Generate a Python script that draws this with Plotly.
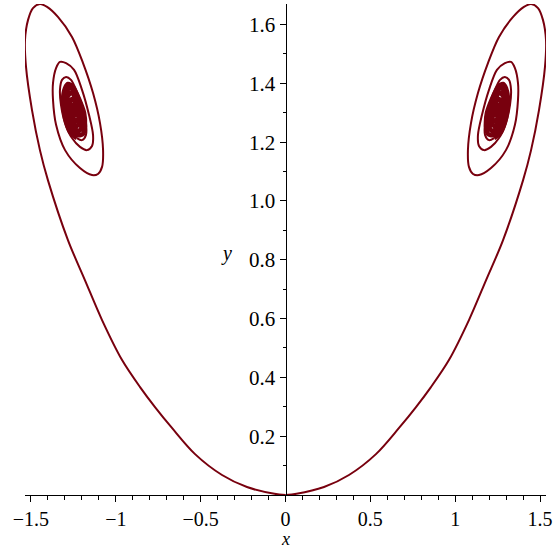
import plotly.graph_objects as go

curve_color = '#78000e'

# left branch: from the origin up the left arm, then spiralling into the left focus
left_x = [0.0, -0.065, -0.227, -0.374, -0.533, -0.669, -0.769, -0.857, -0.963, -1.081,
          -1.182, -1.282, -1.400, -1.447, -1.494, -1.529, -1.535, -1.517, -1.488, -1.447,
          -1.405, -1.341, -1.258, -1.193, -1.134, -1.093, -1.075, -1.081, -1.105, -1.140,
          -1.211, -1.299, -1.352, -1.370, -1.370, -1.352, -1.329, -1.293, -1.246, -1.199,
          -1.158, -1.134, -1.140, -1.170, -1.211, -1.258, -1.299, -1.323, -1.329, -1.317,
          -1.293, -1.264, -1.229, -1.193, -1.176, -1.176, -1.199, -1.229,
          -1.270, -1.299, -1.311, -1.299, -1.282, -1.252, -1.217, -1.187, -1.182, -1.193, -1.223,
          -1.264, -1.293, -1.299, -1.288, -1.270, -1.246, -1.217, -1.199, -1.199, -1.217, -1.240,
          -1.270, -1.288, -1.282, -1.264, -1.240, -1.217, -1.211, -1.229, -1.252,
          -1.270, -1.270, -1.258, -1.240, -1.223, -1.223, -1.240,
          -1.258, -1.258, -1.246, -1.234, -1.234, -1.246, -1.246]
left_y = [0.0, 0.004, 0.027, 0.068, 0.139, 0.228, 0.299, 0.367, 0.459, 0.595,
          0.731, 0.867, 1.071, 1.173, 1.310, 1.456, 1.548, 1.616, 1.656, 1.670,
          1.660, 1.626, 1.558, 1.469, 1.367, 1.265, 1.173, 1.116, 1.092, 1.088,
          1.112, 1.173, 1.259, 1.344, 1.401, 1.452, 1.473, 1.469, 1.446, 1.378,
          1.293, 1.224, 1.187, 1.173, 1.184, 1.214, 1.265, 1.327, 1.378, 1.412,
          1.422, 1.412, 1.371, 1.316, 1.269, 1.224, 1.207, 1.214,
          1.235, 1.282, 1.344, 1.384, 1.398, 1.388, 1.347, 1.299, 1.255, 1.228, 1.224,
          1.252, 1.299, 1.344, 1.374, 1.384, 1.371, 1.333, 1.293, 1.255, 1.238, 1.245,
          1.276, 1.323, 1.357, 1.367, 1.354, 1.316, 1.276, 1.255, 1.262,
          1.296, 1.333, 1.347, 1.337, 1.303, 1.276, 1.272,
          1.303, 1.323, 1.327, 1.310, 1.293, 1.293, 1.310]

# right branch (mirror image of the left one)
right_x = [0.0, 0.065, 0.227, 0.374, 0.533, 0.669, 0.769, 0.857, 0.963, 1.081,
           1.182, 1.282, 1.400, 1.447, 1.494, 1.529, 1.535, 1.517, 1.488, 1.447,
           1.405, 1.341, 1.258, 1.193, 1.134, 1.093, 1.075, 1.081, 1.105, 1.140,
           1.211, 1.299, 1.352, 1.370, 1.370, 1.352, 1.329, 1.293, 1.246, 1.199,
           1.158, 1.134, 1.140, 1.170, 1.211, 1.258, 1.299, 1.323, 1.329, 1.317,
           1.293, 1.264, 1.229, 1.193, 1.176, 1.176, 1.199, 1.229,
           1.270, 1.299, 1.311, 1.299, 1.282, 1.252, 1.217, 1.187, 1.182, 1.193, 1.223,
           1.264, 1.293, 1.299, 1.288, 1.270, 1.246, 1.217, 1.199, 1.199, 1.217, 1.240,
           1.270, 1.288, 1.282, 1.264, 1.240, 1.217, 1.211, 1.229, 1.252,
           1.270, 1.270, 1.258, 1.240, 1.223, 1.223, 1.240,
           1.258, 1.258, 1.246, 1.234, 1.234, 1.246, 1.246]
right_y = list(left_y)

# index where the tightly wound core of each spiral starts
core_start = 57

x_ticks = [-1.5, -1, -0.5, 0, 0.5, 1, 1.5]
x_tick_labels = ['−1.5', '−1', '−0.5', '0', '0.5', '1', '1.5']
y_ticks = [0.2, 0.4, 0.6, 0.8, 1.0, 1.2, 1.4, 1.6]
y_tick_labels = ['0.2', '0.4', '0.6', '0.8', '1.0', '1.2', '1.4', '1.6']

x_range = [-1.535, 1.535]
y_range = [0, 1.670]

serif = 'Liberation Serif'

fig = go.Figure()

for xs, ys in [(left_x, left_y), (right_x, right_y)]:
    # outer arm and first loops
    fig.add_trace(go.Scatter(x=xs[:core_start + 1], y=ys[:core_start + 1], mode='lines',
                             hoverinfo='none', showlegend=False,
                             line=dict(color=curve_color, width=2, shape='spline', smoothing=0.9)))
    # dense core of the spiral
    fig.add_trace(go.Scatter(x=xs[core_start:], y=ys[core_start:], mode='lines',
                             hoverinfo='none', showlegend=False,
                             line=dict(color=curve_color, width=4.5, shape='spline', smoothing=0.8)))

fig.update_xaxes(
    range=x_range,
    automargin=False,
    showgrid=False,
    zeroline=False,
    showline=True,
    linecolor='black',
    linewidth=1,
    ticks='outside',
    ticklen=6,
    tickcolor='black',
    tickvals=x_ticks,
    ticktext=x_tick_labels,
    minor=dict(dtick=0.1, tick0=0, ticks='outside', ticklen=4, tickcolor='black'),
    tickfont=dict(family=serif, size=20, color='black'),
)

fig.update_yaxes(
    range=y_range,
    automargin=False,
    showgrid=False,
    zeroline=False,
    showline=True,
    linecolor='black',
    linewidth=1,
    anchor='free',
    position=(0 - x_range[0]) / (x_range[1] - x_range[0]),
    ticks='outside',
    ticklen=6,
    tickcolor='black',
    tickvals=y_ticks,
    ticktext=y_tick_labels,
    minor=dict(dtick=0.1, tick0=0, ticks='outside', ticklen=3, tickcolor='black'),
    tickfont=dict(family=serif, size=21, color='black'),
)

fig.add_annotation(text='<i>x</i>', x=0, xref='x', y=-0.1135, yref='paper',
                   xanchor='center', yanchor='bottom',
                   showarrow=False, font=dict(family=serif, size=18, color='black'))
fig.add_annotation(text='<i>y</i>', x=-0.345, xref='x', y=0.822, yref='y',
                   xanchor='center', yanchor='middle',
                   showarrow=False, font=dict(family=serif, size=20, color='black'))

fig.update_layout(
    width=559,
    height=551,
    margin=dict(l=25, r=13, t=4, b=56),
    paper_bgcolor='white',
    plot_bgcolor='white',
)

# the page body has a default margin; drop it so the figure sits at the window's corner
fig.write_html('out.html', config={'displayModeBar': False},
               post_script="document.body.style.margin='0';")
